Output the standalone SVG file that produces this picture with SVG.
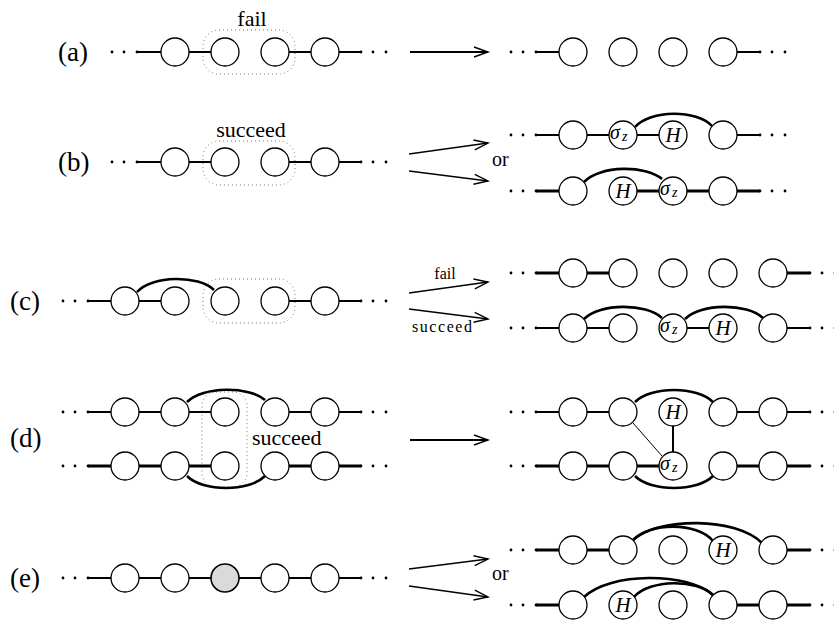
<svg xmlns="http://www.w3.org/2000/svg" width="834" height="620" viewBox="0 0 834 620">
<style>
.n{fill:#fff;stroke:#000;stroke-width:1.3}
.g{fill:#d9dadc;stroke:#000;stroke-width:1.6}
.e{stroke:#000;stroke-width:2;fill:none}
.et{stroke:#000;stroke-width:2.8;fill:none}
.arc{stroke:#000;stroke-width:2.6;fill:none}
.thin{stroke:#000;stroke-width:1;fill:none}
.ar{stroke:#000;stroke-width:2;fill:none;marker-end:url(#v)}
.ar2{stroke:#000;stroke-width:1.3;fill:none;marker-end:url(#v)}
.box{fill:none;stroke:#777;stroke-width:1;stroke-dasharray:1 3}
.t{font-family:"Liberation Serif","DejaVu Serif",serif;fill:#000}
.lab{font-size:27px}
.m{font-size:22px}
.s{font-size:16px}
.i{font-family:"Liberation Serif","DejaVu Serif",serif;font-style:italic;font-size:21px;text-anchor:middle}
.sz{font-family:"Liberation Serif","DejaVu Serif",serif;font-style:italic;font-size:20px}
.d{fill:#000}
</style>
<defs>
<marker id="v" markerUnits="userSpaceOnUse" markerWidth="20" markerHeight="20" refX="0" refY="0" orient="auto" overflow="visible">
<path d="M-14,-5 L0,0 L-14,5" fill="none" stroke="#000" stroke-width="1.4"/>
</marker>
<g id="dl"><circle class="d" cx="0" cy="0" r="1.4"/><circle class="d" cx="12" cy="0" r="1.4"/><circle class="d" cx="25" cy="0" r="1.4"/></g>
</defs>

<!-- labels -->
<g id="labels">
<text class="t lab" x="58" y="61">(a)</text>
<text class="t lab" x="58" y="171">(b)</text>
<text class="t lab" x="10" y="310">(c)</text>
<text class="t lab" x="10" y="447">(d)</text>
<text class="t lab" x="10" y="587">(e)</text>
<text class="t m" x="252" y="26" text-anchor="middle">fail</text>
<text class="t m" x="251" y="137" text-anchor="middle">succeed</text>
<text class="t m" x="252" y="445">succeed</text>
<text class="t" x="492" y="166" style="font-size:20px">or</text>
<text class="t" x="492" y="580" style="font-size:20px">or</text>
<text class="t s" x="445" y="279" text-anchor="middle">fail</text>
<text class="t s" x="412" y="332" textLength="60">succeed</text>
</g>

<!-- dotted groupings -->
<g id="boxes">
<rect class="box" x="203" y="30" width="92" height="44" rx="16"/>
<rect class="box" x="203" y="141" width="92" height="44" rx="16"/>
<rect class="box" x="203" y="279" width="92" height="44" rx="16"/>
<rect class="box" x="202" y="392" width="45" height="95" rx="14"/>
</g>

<!-- connectors -->
<g id="connectors">
<use href="#dl" x="112" y="52"/><use href="#dl" x="361" y="52"/>
<use href="#dl" x="511" y="52"/><use href="#dl" x="760" y="52"/>
<use href="#dl" x="112" y="162"/><use href="#dl" x="361" y="162"/>
<use href="#dl" x="511" y="135"/><use href="#dl" x="760" y="135"/>
<use href="#dl" x="511" y="191"/><use href="#dl" x="760" y="191"/>
<use href="#dl" x="63" y="301"/><use href="#dl" x="361" y="301"/>
<use href="#dl" x="511" y="273"/><use href="#dl" x="810" y="273"/>
<use href="#dl" x="511" y="328"/><use href="#dl" x="810" y="328"/>
<use href="#dl" x="63" y="412"/><use href="#dl" x="361" y="412"/>
<use href="#dl" x="63" y="466"/><use href="#dl" x="361" y="466"/>
<use href="#dl" x="511" y="412"/><use href="#dl" x="810" y="412"/>
<use href="#dl" x="511" y="466"/><use href="#dl" x="810" y="466"/>
<use href="#dl" x="63" y="578"/><use href="#dl" x="361" y="578"/>
<use href="#dl" x="511" y="550"/><use href="#dl" x="810" y="550"/>
<use href="#dl" x="511" y="605"/><use href="#dl" x="810" y="605"/>

<!-- (a) -->
<path class="e" d="M137,52H161M189,52H211M289,52H311M339,52H361"/>
<path class="e" d="M536,52H559M737,52H760"/>
<path class="ar" d="M410,52H488"/>
<!-- (b) -->
<path class="e" d="M137,162H161M189,162H211M289,162H311M339,162H361"/>
<path class="ar2" d="M409,154L488,143"/>
<path class="ar2" d="M409,171L488,181"/>
<path class="e" d="M536,135H559M587,135H609M637,135H659M737,135H760"/>
<path class="arc" d="M635,127C650,109.5 697,109.5 712,126"/>
<path class="et" d="M536,191H559M637,191H659M687,191H709M737,191H760"/>
<path class="arc" d="M584,182C600,165 646,165 662,179"/>
<!-- (c) -->
<path class="e" d="M88,301H111M139,301H161M289,301H311M339,301H361"/>
<path class="arc" d="M137,292C152,275 199,275 214,290"/>
<path class="ar2" d="M409,293L488,282"/>
<path class="ar2" d="M409,309L488,319"/>
<path class="et" d="M536,273H559M587,273H609M787,273H810"/>
<path class="e" d="M536,328H559M587,328H609M687,328H709M787,328H810"/>
<path class="arc" d="M584,319C600,303 646,303 662,318"/>
<path class="arc" d="M685,319C701,303 747,303 763,318"/>
<!-- (d) -->
<path class="e" d="M88,412H111M139,412H161M189,412H211M289,412H311M339,412H361"/>
<path class="et" d="M88,466H111M139,466H161M189,466H211M289,466H311M339,466H361"/>
<path class="arc" d="M187,402C203,386 249,386 265,400"/>
<path class="arc" d="M187,476C203,492 249,492 265,476"/>
<path class="ar" d="M410,440H488"/>
<path class="e" d="M536,412H559M587,412H609M737,412H759M787,412H810"/>
<path class="et" d="M536,466H559M587,466H609M637,466H659M737,466H759M787,466H810"/>
<path class="arc" d="M635,402C651,386 697,386 713,402"/>
<path class="arc" d="M635,476C651,492 697,492 713,476"/>
<path class="e" d="M673,426V452"/>
<path class="thin" d="M633,423L662,456"/>
<!-- (e) -->
<path class="e" d="M88,578H111M139,578H161M189,578H211M239,578H261M289,578H311M339,578H361"/>
<path class="ar2" d="M409,569L488,559"/>
<path class="ar2" d="M409,586L488,597"/>
<path class="et" d="M536,550H559M587,550H609M787,550H810"/>
<path class="arc" d="M633,540C659,517 736,517 762,543"/>
<path class="arc" d="M633,540C650,522 697,522 713,541"/>
<path class="et" d="M536,605H559M737,605H759M787,605H810"/>
<path class="arc" d="M584,597C610,572 687,572 713,595"/>
<path class="arc" d="M634,597C650,579 697,579 713,595"/>
</g>

<!-- nodes -->
<g id="a-l1"><circle class="n" cx="175" cy="52" r="14"/></g>
<g id="a-l2"><circle class="n" cx="225" cy="52" r="14"/></g>
<g id="a-l3"><circle class="n" cx="275" cy="52" r="14"/></g>
<g id="a-l4"><circle class="n" cx="325" cy="52" r="14"/></g>
<g id="a-r1"><circle class="n" cx="573" cy="52" r="14"/></g>
<g id="a-r2"><circle class="n" cx="623" cy="52" r="14"/></g>
<g id="a-r3"><circle class="n" cx="673" cy="52" r="14"/></g>
<g id="a-r4"><circle class="n" cx="723" cy="52" r="14"/></g>

<g id="b-l1"><circle class="n" cx="175" cy="162" r="14"/></g>
<g id="b-l2"><circle class="n" cx="225" cy="162" r="14"/></g>
<g id="b-l3"><circle class="n" cx="275" cy="162" r="14"/></g>
<g id="b-l4"><circle class="n" cx="325" cy="162" r="14"/></g>
<g id="b-t1"><circle class="n" cx="573" cy="135" r="14"/></g>
<g id="b-t2"><circle class="n" cx="623" cy="135" r="14"/><text class="sz" x="610" y="139"><tspan>σ</tspan><tspan font-size="14" dx="2" dy="2">z</tspan></text></g>
<g id="b-t3"><circle class="n" cx="673" cy="135" r="14"/><text class="i" x="673" y="142">H</text></g>
<g id="b-t4"><circle class="n" cx="723" cy="135" r="14"/></g>
<g id="b-b1"><circle class="n" cx="573" cy="191" r="14"/></g>
<g id="b-b2"><circle class="n" cx="623" cy="191" r="14"/><text class="i" x="623" y="198">H</text></g>
<g id="b-b3"><circle class="n" cx="673" cy="191" r="14"/><text class="sz" x="660" y="195"><tspan>σ</tspan><tspan font-size="14" dx="2" dy="2">z</tspan></text></g>
<g id="b-b4"><circle class="n" cx="723" cy="191" r="14"/></g>

<g id="c-l1"><circle class="n" cx="125" cy="301" r="14"/></g>
<g id="c-l2"><circle class="n" cx="175" cy="301" r="14"/></g>
<g id="c-l3"><circle class="n" cx="225" cy="301" r="14"/></g>
<g id="c-l4"><circle class="n" cx="275" cy="301" r="14"/></g>
<g id="c-l5"><circle class="n" cx="325" cy="301" r="14"/></g>
<g id="c-t1"><circle class="n" cx="573" cy="273" r="14"/></g>
<g id="c-t2"><circle class="n" cx="623" cy="273" r="14"/></g>
<g id="c-t3"><circle class="n" cx="673" cy="273" r="14"/></g>
<g id="c-t4"><circle class="n" cx="723" cy="273" r="14"/></g>
<g id="c-t5"><circle class="n" cx="773" cy="273" r="14"/></g>
<g id="c-b1"><circle class="n" cx="573" cy="328" r="14"/></g>
<g id="c-b2"><circle class="n" cx="623" cy="328" r="14"/></g>
<g id="c-b3"><circle class="n" cx="673" cy="328" r="14"/><text class="sz" x="660" y="332"><tspan>σ</tspan><tspan font-size="14" dx="2" dy="2">z</tspan></text></g>
<g id="c-b4"><circle class="n" cx="723" cy="328" r="14"/><text class="i" x="723" y="335">H</text></g>
<g id="c-b5"><circle class="n" cx="773" cy="328" r="14"/></g>

<g id="d-lt1"><circle class="n" cx="125" cy="412" r="14"/></g>
<g id="d-lt2"><circle class="n" cx="175" cy="412" r="14"/></g>
<g id="d-lt3"><circle class="n" cx="225" cy="412" r="14"/></g>
<g id="d-lt4"><circle class="n" cx="275" cy="412" r="14"/></g>
<g id="d-lt5"><circle class="n" cx="325" cy="412" r="14"/></g>
<g id="d-lb1"><circle class="n" cx="125" cy="466" r="14"/></g>
<g id="d-lb2"><circle class="n" cx="175" cy="466" r="14"/></g>
<g id="d-lb3"><circle class="n" cx="225" cy="466" r="14"/></g>
<g id="d-lb4"><circle class="n" cx="275" cy="466" r="14"/></g>
<g id="d-lb5"><circle class="n" cx="325" cy="466" r="14"/></g>
<g id="d-rt1"><circle class="n" cx="573" cy="412" r="14"/></g>
<g id="d-rt2"><circle class="n" cx="623" cy="412" r="14"/></g>
<g id="d-rt3"><circle class="n" cx="673" cy="412" r="14"/><text class="i" x="673" y="419">H</text></g>
<g id="d-rt4"><circle class="n" cx="723" cy="412" r="14"/></g>
<g id="d-rt5"><circle class="n" cx="773" cy="412" r="14"/></g>
<g id="d-rb1"><circle class="n" cx="573" cy="466" r="14"/></g>
<g id="d-rb2"><circle class="n" cx="623" cy="466" r="14"/></g>
<g id="d-rb3"><circle class="n" cx="673" cy="466" r="14"/><text class="sz" x="660" y="470"><tspan>σ</tspan><tspan font-size="14" dx="2" dy="2">z</tspan></text></g>
<g id="d-rb4"><circle class="n" cx="723" cy="466" r="14"/></g>
<g id="d-rb5"><circle class="n" cx="773" cy="466" r="14"/></g>

<g id="e-l1"><circle class="n" cx="125" cy="578" r="14"/></g>
<g id="e-l2"><circle class="n" cx="175" cy="578" r="14"/></g>
<g id="e-l3"><circle class="g" cx="225" cy="578" r="14"/></g>
<g id="e-l4"><circle class="n" cx="275" cy="578" r="14"/></g>
<g id="e-l5"><circle class="n" cx="325" cy="578" r="14"/></g>
<g id="e-t1"><circle class="n" cx="573" cy="550" r="14"/></g>
<g id="e-t2"><circle class="n" cx="623" cy="550" r="14"/></g>
<g id="e-t3"><circle class="n" cx="673" cy="550" r="14"/></g>
<g id="e-t4"><circle class="n" cx="723" cy="550" r="14"/><text class="i" x="723" y="557">H</text></g>
<g id="e-t5"><circle class="n" cx="773" cy="550" r="14"/></g>
<g id="e-b1"><circle class="n" cx="573" cy="605" r="14"/></g>
<g id="e-b2"><circle class="n" cx="623" cy="605" r="14"/><text class="i" x="623" y="612">H</text></g>
<g id="e-b3"><circle class="n" cx="673" cy="605" r="14"/></g>
<g id="e-b4"><circle class="n" cx="723" cy="605" r="14"/></g>
<g id="e-b5"><circle class="n" cx="773" cy="605" r="14"/></g>
</svg>
